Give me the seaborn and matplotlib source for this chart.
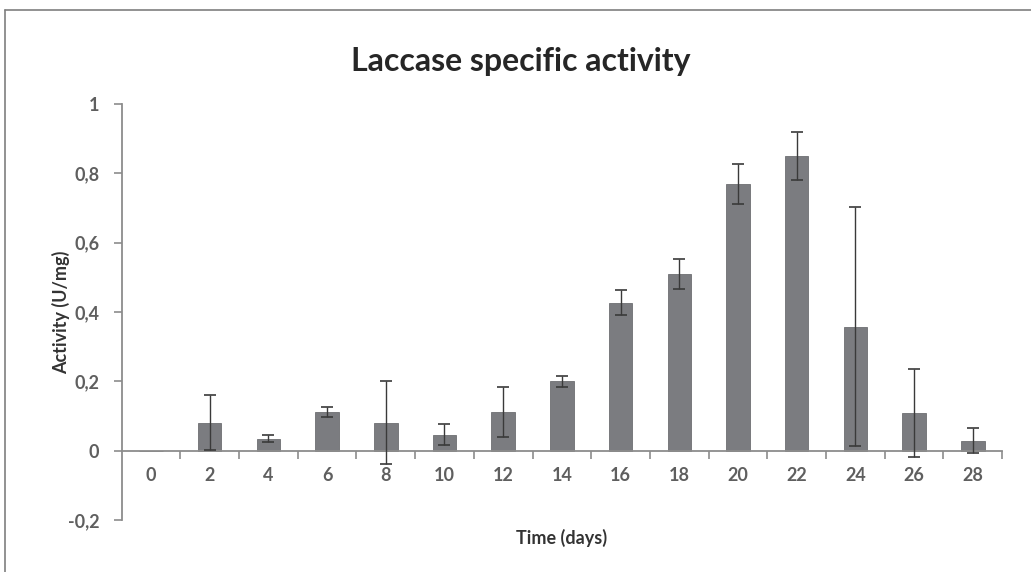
import matplotlib
matplotlib.use("Agg")
import matplotlib.pyplot as plt
import seaborn as sns
import pandas as pd
from matplotlib.lines import Line2D

# ---- data ----
days = ["0", "2", "4", "6", "8", "10", "12", "14", "16", "18", "20", "22", "24", "26", "28"]
activity = [0.0, 0.081, 0.035, 0.112, 0.081, 0.046, 0.112, 0.200, 0.427, 0.510, 0.770, 0.850, 0.357, 0.109, 0.029]
errors = [0.0, 0.080, 0.010, 0.015, 0.120, 0.030, 0.073, 0.015, 0.037, 0.043, 0.057, 0.070, 0.345, 0.127, 0.037]
y_ticks = [-0.2, 0.0, 0.2, 0.4, 0.6, 0.8, 1.0]
y_tick_labels = ["-0,2", "0", "0,2", "0,4", "0,6", "0,8", "1"]

df = pd.DataFrame({"Time": days, "Activity": activity, "Err": errors})

sns.set_style("white")
plt.rcParams["font.family"] = ["Lato", "DejaVu Sans"]

fig = plt.figure(figsize=(10.31, 5.72), dpi=100)
ax = fig.add_axes([0.118, 0.091, 0.854, 0.727])

bar_color = "#7b7c80"
axis_color = "#8c8c8c"
text_color = "#5f5f5f"

sns.barplot(data=df, x="Time", y="Activity", order=days, color=bar_color,
            width=0.4, saturation=1, ax=ax, errorbar=None, edgecolor="#6e6f72", linewidth=0.6)

xs = list(range(len(days)))
ax.errorbar(xs[1:], activity[1:], yerr=errors[1:], fmt="none", ecolor="#3a3a3a",
            elinewidth=1.0, capsize=4, capthick=1.2, zorder=5)

ax.set_ylim(-0.2, 1.0)
ax.set_xlim(-0.5, len(days) - 0.5)
ax.set_yticks(y_ticks)
ax.set_yticklabels(y_tick_labels)

# spines
for s in ["top", "right"]:
    ax.spines[s].set_visible(False)
ax.spines["left"].set_color(axis_color)
ax.spines["left"].set_linewidth(1.3)
ax.spines["bottom"].set_color(axis_color)
ax.spines["bottom"].set_linewidth(1.3)
ax.spines["bottom"].set_position(("data", 0))

# ticks
ax.tick_params(axis="y", which="major", direction="out", length=6, width=1.2,
               color=axis_color, labelcolor=text_color, labelsize=13, left=True, pad=10)
ax.tick_params(axis="x", which="major", length=0, labelcolor=text_color, labelsize=13, pad=12)
ax.set_xticks([i + 0.5 for i in range(len(days))], minor=True)
ax.tick_params(axis="x", which="minor", direction="out", length=6, width=1.2,
               color=axis_color, bottom=True)
for lab in ax.get_xticklabels() + ax.get_yticklabels():
    lab.set_fontweight("bold")

ax.set_xlabel("Time (days)", fontsize=13, fontweight="bold", color="#333333")
ax.set_ylabel("Activity (U/mg)", fontsize=13, fontweight="bold", color="#333333")
ax.xaxis.set_label_coords(0.5, -0.022)
ax.yaxis.set_label_coords(-0.058, 0.5)

fig.text(0.505, 0.893, "Laccase specific activity", ha="center", va="center",
         fontsize=23, fontweight="bold", color="#262626")

# outer frame (top and left edges visible)
fig.add_artist(Line2D([0.005, 1.0], [0.983, 0.983], transform=fig.transFigure,
                      color="#7f7f7f", linewidth=1.2))
fig.add_artist(Line2D([0.005, 0.005], [0.0, 0.983], transform=fig.transFigure,
                      color="#7f7f7f", linewidth=1.2))

fig.savefig("out.png", dpi=100)
